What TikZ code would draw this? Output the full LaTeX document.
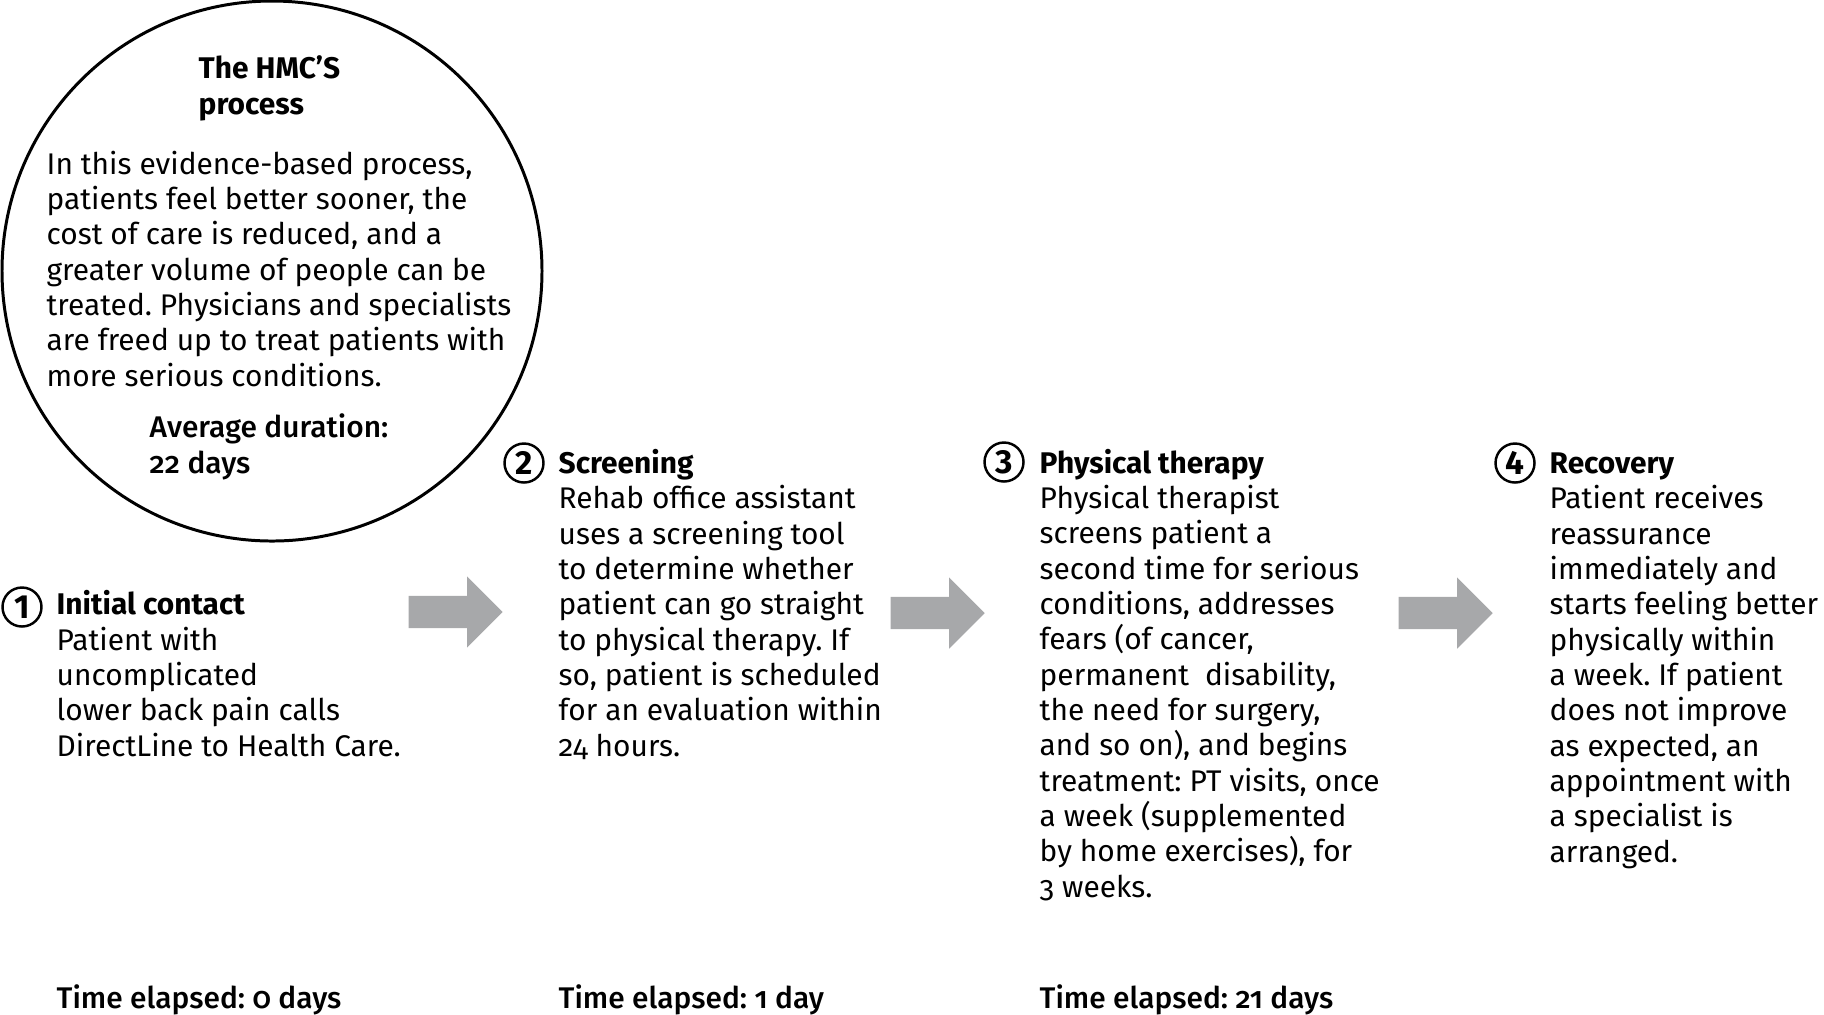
\documentclass[tikz,border=0pt]{standalone}
\usepackage{fontspec}
\setmainfont{Fira Sans}[Numbers=OldStyle]
\newfontfamily\medfont{Fira Sans Medium}[Numbers=OldStyle]
\usetikzlibrary{positioning,shapes.arrows}
\definecolor{arrowgray}{HTML}{A7A8AA}
\frenchspacing
\newcommand\txtsize{\fontsize{8.5pt}{10.05pt}\selectfont}
\tikzset{
 % multi-line nodes sit on the baseline of their last line
 txt/.style={inner sep=0pt,align=left,anchor=base west,font=\txtsize},
 medtxt/.style={txt,font=\medfont\txtsize},
 stepnum/.style={draw,circle,line width=0.7pt,minimum size=3.9mm,inner sep=0pt,
                 font=\fontsize{9.5pt}{10pt}\selectfont\bfseries\addfontfeature{Numbers=Lining}},
 fatarrow/.style={single arrow,fill=arrowgray,draw=none,anchor=tail,
                  minimum height=9.4mm,inner xsep=0pt,inner ysep=1.55mm,
                  single arrow head extend=1.95mm},
}

\begin{document}
\begin{tikzpicture}[x=0.1mm,y=-0.1mm]
\useasboundingbox (0,0) rectangle (1824,1014);
% summary circle
\node[draw,circle,line width=0.85pt,minimum size=54mm,inner sep=0pt] (hmc) at (272,271) {};
\node[txt,font=\txtsize\bfseries] (hmctitle) at (198,114) {The HMC’S\\process};
\node[txt] (hmcbody) at (46,386) {In this evidence-based process,\\patients feel better sooner, the\\cost of care is reduced, and a\\greater volume of people can be\\treated. Physicians and specialists\\are freed up to treat patients with\\more serious conditions.};
\node[medtxt] (hmcdur) at (149,473) {Average duration:\\22 days};

% steps
\node[txt] (s1) at (56,756) {\textbf{Initial contact}\\Patient with\\uncomplicated\\lower back pain calls\\DirectLine to Health Care.};
\node[txt] (s2) at (558,756) {\textbf{Screening}\\Rehab office assistant\\uses a screening tool\\to determine whether\\patient can go straight\\to physical therapy. If\\so, patient is scheduled\\for an evaluation within\\24 hours.};
\node[txt] (s3) at (1039,897) {\textbf{Physical therapy}\\Physical therapist\\screens patient a\\second time for serious\\conditions, addresses\\fears (of cancer,\\permanent~ disability,\\the need for surgery,\\and so on), and begins\\treatment: PT visits, once\\a week (supplemented\\by home exercises), for\\3 weeks.};
\node[txt] (s4) at (1549,862) {\textbf{Recovery}\\Patient receives\\reassurance\\immediately and\\starts feeling better\\physically within\\a week. If patient\\does not improve\\as expected, an\\appointment with\\a specialist is\\arranged.};

\node[stepnum] (n1) at (22,607) {1};
\node[stepnum] (n2) at (524,463) {2};
\node[stepnum] (n3) at (1004,462) {3};
\node[stepnum] (n4) at (1515,463) {4};

% arrows between steps
\node[fatarrow] (a1) at (408,612) {};
\node[fatarrow] (a2) at (890,613) {};
\node[fatarrow] (a3) at (1398,613) {};

% elapsed time
\node[medtxt] (t1) at (56,1008) {Time elapsed: 0 days};
\node[medtxt] (t2) at (558,1008) {Time elapsed: 1 day};
\node[medtxt] (t3) at (1039,1008) {Time elapsed: 21 days};
\end{tikzpicture}
\end{document}
